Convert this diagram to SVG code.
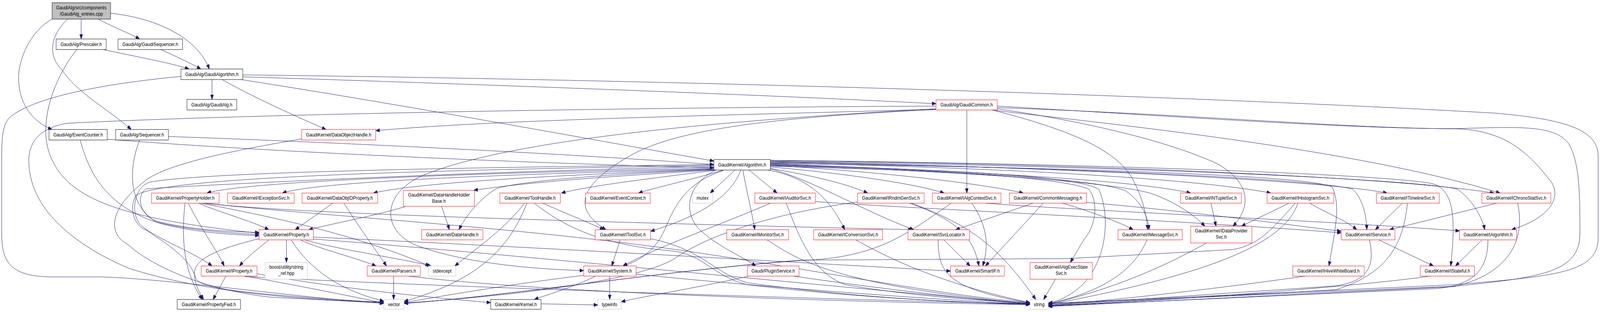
<svg xmlns="http://www.w3.org/2000/svg" width="4731" height="800" viewBox="0 0 4731 800">
<style>
.nd rect{fill:#fff;stroke:#000;stroke-width:1}
.nd.r rect{stroke:#ff0000}
.nd.g rect{stroke:#bfbfbf}
.nd.root rect{fill:#bfbfbf}
.nd text{font-family:"Liberation Sans",Arial,sans-serif;font-size:13px;text-anchor:middle;fill:#000}
#edges path{fill:none;stroke:#191970;stroke-width:1;marker-end:url(#a)}
</style>
<defs>
<marker id="a" markerWidth="12" markerHeight="9" refX="12" refY="4.5" orient="auto" markerUnits="userSpaceOnUse"><path d="M0,0 L12,4.5 L0,9 z" fill="#191970" stroke="#191970"/></marker>
</defs>
<rect x="0" y="0" width="4731" height="800" fill="#fff"/>
<g id="diagram" transform="scale(0.8657,1)">
<g id="edges">
<path d="M240,49 L240,100"/>
<path d="M291,49 C330,68 380,84 413,100"/>
<path d="M327,34 C450,45 580,90 619,177"/>
<path d="M154,49 C90,80 55,150 55,200 C55,260 90,310 154,332"/>
<path d="M200,49 C150,90 140,140 181,177 C230,240 320,280 388,332"/>
<path d="M305,127 C400,145 500,160 559,177"/>
<path d="M227,127 C160,200 100,330 160,420 C220,520 400,565 766,598"/>
<path d="M476,127 C520,145 560,160 594,177"/>
<path d="M627,204 L627,255"/>
<path d="M718,197 C1200,210 2200,240 2768,266"/>
<path d="M713,204 C1200,270 1700,350 2111,413"/>
<path d="M657,204 C750,250 880,300 964,332"/>
<path d="M718,192 C2000,205 3500,245 4420,290 C4620,305 4726,330 4726,400 L4726,610 C4726,700 4600,708 4300,730 L3100,778"/>
<path d="M535,196 C300,215 100,250 30,300 C5,320 5,360 5,420 L5,600 C5,680 40,708 150,710 L300,710 C500,715 900,765 1135,778"/>
<path d="M317,357 C800,390 1600,420 2111,430"/>
<path d="M237,359 C260,430 300,520 453,567 C550,590 680,598 766,601"/>
<path d="M498,350 C1000,365 1700,395 2111,422"/>
<path d="M413,359 C385,420 370,520 463,570 C560,595 680,602 766,604"/>
<path d="M2768,280 C2200,295 1500,305 1111,335"/>
<path d="M2859,282 L2859,495"/>
<path d="M2932,282 C3300,320 4000,380 4436,495"/>
<path d="M2768,281 C2300,300 2000,330 1862,400 C1700,480 1700,540 1792,589"/>
<path d="M2768,279 C2100,310 1500,360 1250,450 C1120,500 1130,600 1243,633 C1400,680 1600,690 1726,694"/>
<path d="M2768,272 C2000,275 800,290 200,316 C100,330 80,380 86,427 C95,530 200,620 378,687 C600,750 900,770 1135,774"/>
<path d="M2949,272 C3500,300 4000,330 4300,330 C4500,325 4600,320 4640,370 C4672,420 4672,500 4672,600 C4672,700 4550,712 4300,734 L3100,779"/>
<path d="M2949,276 C3500,292 4000,330 4300,330 C4450,333 4520,390 4590,470 C4620,520 4560,565 4470,589"/>
<path d="M2934,282 C3150,330 3300,380 3350,460 C3380,510 3390,550 3394,589"/>
<path d="M2949,279 C3200,310 3450,360 3600,420 C3700,470 3700,530 3646,580"/>
<path d="M2111,431 C1600,440 750,460 612,495"/>
<path d="M2111,433 C1600,445 950,462 835,495"/>
<path d="M2112,434 C1700,447 1250,466 1104,495"/>
<path d="M2115,436 C1800,452 1550,468 1401,488"/>
<path d="M2120,436 C1950,455 1750,475 1660,495"/>
<path d="M2139,436 C2050,460 1950,478 1888,495"/>
<path d="M2174,436 L2100,495"/>
<path d="M2215,436 L2298,495"/>
<path d="M2278,432 C2400,450 2500,470 2566,495"/>
<path d="M2278,428 C2500,445 2700,470 2792,495"/>
<path d="M2278,424 C2600,440 2900,470 3026,495"/>
<path d="M2278,420 C2900,440 3350,462 3521,495"/>
<path d="M2278,418 C3000,430 3550,460 3758,495"/>
<path d="M2278,415 C3000,425 3900,460 4102,495"/>
<path d="M2278,412 C3200,420 4100,452 4418,495"/>
<path d="M2111,427 C1400,440 700,470 433,484 C405,497 408,548 460,566 C560,590 680,594 766,596"/>
<path d="M2111,422 C1300,430 600,442 443,467 C390,482 385,560 423,582 C460,610 580,650 627,682"/>
<path d="M2111,424 C1300,436 500,452 403,500 C380,530 395,580 433,590 C500,630 560,660 579,713 C590,740 700,752 1135,776"/>
<path d="M2111,435 C1800,446 1520,465 1465,485 C1420,510 1380,550 1357,589"/>
<path d="M2190,437 C2160,510 2050,560 1924,593"/>
<path d="M2197,437 C2210,500 2225,550 2232,589"/>
<path d="M2139,437 C2020,470 1990,540 1965,590 C1940,640 1890,670 1843,682"/>
<path d="M2114,437 C2020,480 2020,560 2084,600 C2140,640 2200,660 2235,682"/>
<path d="M2270,436 C2400,455 2460,520 2498,589"/>
<path d="M2278,433 C2400,460 2550,540 2702,589"/>
<path d="M2278,426 C2900,440 3250,460 3330,490 C3380,520 3395,560 3398,589"/>
<path d="M2278,424 C2900,440 3300,470 3400,495 C3470,515 3530,550 3563,580"/>
<path d="M2278,416 C3200,430 3900,460 4000,485 C4030,510 4040,550 4042,589"/>
<path d="M2278,414 C3300,425 4200,460 4310,485 C4350,510 4380,550 4391,589"/>
<path d="M2278,411 C3300,420 4150,450 4240,472 C4300,490 4305,560 4290,682"/>
<path d="M2278,419 C3200,430 3880,450 3940,480 C3960,520 3952,560 3946,600 L3930,682"/>
<path d="M2278,421 C2900,440 3150,460 3220,485 C3250,520 3240,580 3205,615 L3165,673"/>
<path d="M2278,423 C2900,436 3200,456 3250,486 C3285,560 3270,660 3210,722 C3170,760 3120,775 3100,777"/>
<path d="M892,356 C700,385 480,420 420,470 C320,540 320,600 378,627 C460,690 620,745 800,762 L1135,777"/>
<path d="M587,521 C650,545 740,565 795,589"/>
<path d="M557,521 C590,580 640,640 663,682"/>
<path d="M547,521 C535,620 545,700 598,768"/>
<path d="M593,521 C800,555 1050,600 1270,682"/>
<path d="M600,521 C900,550 1800,570 2698,589"/>
<path d="M606,521 C900,550 1500,580 2000,640 C2400,690 2800,760 3046,776"/>
<path d="M795,615 C760,640 730,660 708,682"/>
<path d="M766,612 C660,635 575,660 575,700 C575,730 590,750 602,768"/>
<path d="M668,708 L630,768"/>
<path d="M847,615 L847,673"/>
<path d="M888,615 C950,640 1050,660 1112,682"/>
<path d="M900,615 C1000,640 1200,665 1275,682"/>
<path d="M861,615 C900,670 980,740 1135,772"/>
<path d="M927,608 C1500,630 2300,670 2811,695"/>
<path d="M927,613 C1500,650 2500,740 3046,778"/>
<path d="M984,521 L873,589"/>
<path d="M1017,521 C1060,580 1110,640 1143,682"/>
<path d="M1198,530 C1100,555 1000,570 913,589"/>
<path d="M1306,529 L1329,589"/>
<path d="M1605,521 C1680,550 1740,570 1786,589"/>
<path d="M1551,521 C1500,580 1420,630 1345,682"/>
<path d="M1558,521 C1500,650 1400,720 1195,773"/>
<path d="M1580,521 C1680,590 1800,630 1983,643 C2080,650 2110,710 2210,730 C2500,760 2800,775 3046,780"/>
<path d="M1164,708 L1164,768"/>
<path d="M1208,708 C1600,750 2500,775 3046,781"/>
<path d="M725,708 C900,735 1050,762 1135,777"/>
<path d="M760,702 C1000,740 1300,765 1451,776"/>
<path d="M724,709 C1200,732 2500,770 3046,779"/>
<path d="M1834,615 L1809,682"/>
<path d="M1924,612 C2080,640 2110,700 2210,725 C2500,760 2800,775 3046,781"/>
<path d="M1761,708 C1700,735 1620,755 1580,768"/>
<path d="M1803,708 L1803,768"/>
<path d="M1726,706 C1500,730 1300,760 1195,776"/>
<path d="M1881,703 C2300,740 2800,770 3046,780"/>
<path d="M2215,708 C2050,740 1900,760 1837,774"/>
<path d="M2346,708 C2600,740 2900,770 3046,780"/>
<path d="M2278,521 C2150,570 1950,630 1842,682"/>
<path d="M2325,521 C2360,600 2400,700 2500,730 C2700,760 2900,770 3046,778"/>
<path d="M2411,517 C2700,535 3500,565 3966,597"/>
<path d="M2268,615 C2350,660 2450,730 3046,779"/>
<path d="M2536,518 C2300,545 2100,600 2000,660 C1900,720 1500,760 1195,777"/>
<path d="M2690,521 C2850,570 2880,620 2895,682"/>
<path d="M2695,521 C2880,580 2960,640 3063,768"/>
<path d="M2874,521 C2920,580 2925,630 2906,682"/>
<path d="M2813,521 C2680,600 2600,660 2370,668 C2000,690 1500,760 1195,778"/>
<path d="M2914,521 C3200,540 3900,565 4316,592"/>
<path d="M3055,521 L2826,589"/>
<path d="M3085,521 L2914,682"/>
<path d="M3141,521 C3200,535 3300,565 3351,589"/>
<path d="M3213,519 C3500,540 3800,575 3966,593"/>
<path d="M2791,615 L2869,682"/>
<path d="M2774,615 C2775,700 2800,740 3046,777"/>
<path d="M2531,615 C2700,700 2900,750 3046,776"/>
<path d="M3581,521 L3596,580"/>
<path d="M3812,521 L3671,580"/>
<path d="M3873,521 C3920,545 3980,565 4012,589"/>
<path d="M3838,521 C3800,620 3600,700 3100,781"/>
<path d="M3830,521 C3760,590 3720,630 3644,640 L3160,663 L2370,667 C2000,690 1500,760 1195,778"/>
<path d="M4147,521 L4067,589"/>
<path d="M4162,521 C4150,620 4110,700 3950,743 L3100,784"/>
<path d="M4426,521 L4109,589"/>
<path d="M4488,521 C4510,610 4470,700 4300,735 L3100,786"/>
<path d="M4077,615 L4239,682"/>
<path d="M4050,615 C4065,680 4050,720 3950,733 L3100,783"/>
<path d="M4383,615 L4304,682"/>
<path d="M4400,615 C4400,690 4360,730 4250,740 L3100,785"/>
<path d="M4229,708 C4100,725 3600,765 3100,784"/>
<path d="M3860,708 C3600,740 3300,770 3100,782"/>
<path d="M3121,716 L3086,768"/>
<path d="M3392,615 C3350,700 3250,750 3100,779"/>
<path d="M3568,623 C3450,680 3300,740 3100,780"/>
<path d="M1600,779 L1768,782"/>
</g>
<g id="n_root" class="nd root"><rect x="154" y="7" width="173" height="42"/><text x="240.5" y="24">GaudiAlg/src/components</text><text x="240.5" y="40">/GaudiAlg_entries.cpp</text></g>
<g id="n_prescaler" class="nd"><rect x="166" y="100" width="148" height="27"/><text x="240" y="118">GaudiAlg/Prescaler.h</text></g>
<g id="n_gaudiseq" class="nd"><rect x="349" y="100" width="191" height="27"/><text x="444.5" y="118">GaudiAlg/GaudiSequencer.h</text></g>
<g id="n_gaudialgorithm" class="nd"><rect x="535" y="177" width="183" height="27"/><text x="626.5" y="195">GaudiAlg/GaudiAlgorithm.h</text></g>
<g id="n_gaudialg" class="nd"><rect x="553" y="255" width="147" height="27"/><text x="626.5" y="273">GaudiAlg/GaudiAlg.h</text></g>
<g id="n_gaudicommon" class="nd r"><rect x="2768" y="256" width="181" height="26"/><text x="2858.5" y="273">GaudiAlg/GaudiCommon.h</text></g>
<g id="n_eventcounter" class="nd"><rect x="145" y="332" width="172" height="27"/><text x="231" y="350">GaudiAlg/EventCounter.h</text></g>
<g id="n_sequencer" class="nd"><rect x="342" y="332" width="156" height="27"/><text x="420" y="350">GaudiAlg/Sequencer.h</text></g>
<g id="n_dataobjecthandle" class="nd r"><rect x="892" y="332" width="219" height="27"/><text x="1001.5" y="350">GaudiKernel/DataObjectHandle.h</text></g>
<g id="n_algorithm" class="nd"><rect x="2111" y="409" width="167" height="27"/><text x="2194.5" y="427">GaudiKernel/Algorithm.h</text></g>
<g id="n_propertyholder" class="nd r"><rect x="448" y="495" width="200" height="26"/><text x="548" y="512">GaudiKernel/PropertyHolder.h</text></g>
<g id="n_iexceptionsvc" class="nd r"><rect x="673" y="495" width="197" height="26"/><text x="771.5" y="512">GaudiKernel/IExceptionSvc.h</text></g>
<g id="n_dataobjidproperty" class="nd r"><rect x="893" y="495" width="224" height="26"/><text x="1005" y="512">GaudiKernel/DataObjIDProperty.h</text></g>
<g id="n_datahandleholderbase" class="nd r"><rect x="1193" y="488" width="210" height="41"/><text x="1298" y="504">GaudiKernel/DataHandleHolder</text><text x="1298" y="520">Base.h</text></g>
<g id="n_toolhandle" class="nd r"><rect x="1478" y="495" width="179" height="26"/><text x="1567.5" y="512">GaudiKernel/ToolHandle.h</text></g>
<g id="n_eventcontext" class="nd r"><rect x="1732" y="495" width="191" height="26"/><text x="1827.5" y="512">GaudiKernel/EventContext.h</text></g>
<g id="n_mutex" class="nd g"><rect x="2048" y="495" width="59" height="26"/><text x="2077.5" y="512">mutex</text></g>
<g id="n_iauditorsvc" class="nd r"><rect x="2232" y="495" width="179" height="26"/><text x="2321.5" y="512">GaudiKernel/IAuditorSvc.h</text></g>
<g id="n_irndmgensvc" class="nd r"><rect x="2536" y="495" width="197" height="26"/><text x="2634.5" y="512">GaudiKernel/IRndmGenSvc.h</text></g>
<g id="n_ialgcontextsvc" class="nd r"><rect x="2757" y="495" width="203" height="26"/><text x="2858.5" y="512">GaudiKernel/IAlgContextSvc.h</text></g>
<g id="n_commonmessaging" class="nd r"><rect x="2985" y="495" width="228" height="26"/><text x="3099" y="512">GaudiKernel/CommonMessaging.h</text></g>
<g id="n_intuplesvc" class="nd r"><rect x="3491" y="495" width="180" height="26"/><text x="3581" y="512">GaudiKernel/INTupleSvc.h</text></g>
<g id="n_ihistogramsvc" class="nd r"><rect x="3747" y="495" width="197" height="26"/><text x="3845.5" y="512">GaudiKernel/IHistogramSvc.h</text></g>
<g id="n_itimelinesvc" class="nd r"><rect x="4070" y="495" width="186" height="26"/><text x="4163" y="512">GaudiKernel/ITimelineSvc.h</text></g>
<g id="n_ichronostatsvc" class="nd r"><rect x="4382" y="495" width="204" height="26"/><text x="4484" y="512">GaudiKernel/IChronoStatSvc.h</text></g>
<g id="n_property" class="nd r"><rect x="766" y="589" width="161" height="26"/><text x="846.5" y="606">GaudiKernel/Property.h</text></g>
<g id="n_datahandle" class="nd r"><rect x="1247" y="589" width="181" height="26"/><text x="1337.5" y="606">GaudiKernel/DataHandle.h</text></g>
<g id="n_itoolsvc" class="nd r"><rect x="1760" y="589" width="164" height="26"/><text x="1842" y="606">GaudiKernel/IToolSvc.h</text></g>
<g id="n_imonitorsvc" class="nd r"><rect x="2149" y="589" width="183" height="26"/><text x="2240.5" y="606">GaudiKernel/IMonitorSvc.h</text></g>
<g id="n_iconversionsvc" class="nd r"><rect x="2406" y="589" width="204" height="26"/><text x="2508" y="606">GaudiKernel/IConversionSvc.h</text></g>
<g id="n_isvclocator" class="nd r"><rect x="2685" y="589" width="182" height="26"/><text x="2776" y="606">GaudiKernel/ISvcLocator.h</text></g>
<g id="n_imessagesvc" class="nd r"><rect x="3306" y="589" width="190" height="26"/><text x="3401" y="606">GaudiKernel/IMessageSvc.h</text></g>
<g id="n_idataprovidersvc" class="nd r"><rect x="3521" y="580" width="181" height="43"/><text x="3611.5" y="596">GaudiKernel/IDataProvider</text><text x="3611.5" y="612">Svc.h</text></g>
<g id="n_iservice" class="nd r"><rect x="3966" y="589" width="159" height="26"/><text x="4045.5" y="606">GaudiKernel/IService.h</text></g>
<g id="n_ialgorithm" class="nd r"><rect x="4316" y="589" width="169" height="26"/><text x="4400.5" y="606">GaudiKernel/IAlgorithm.h</text></g>
<g id="n_iproperty" class="nd r"><rect x="595" y="682" width="165" height="26"/><text x="677.5" y="699">GaudiKernel/IProperty.h</text></g>
<g id="n_boost" class="nd g"><rect x="784" y="673" width="125" height="43"/><text x="846.5" y="689">boost/utility/string</text><text x="846.5" y="705">_ref.hpp</text></g>
<g id="n_parsers" class="nd r"><rect x="1086" y="682" width="157" height="26"/><text x="1164.5" y="699">GaudiKernel/Parsers.h</text></g>
<g id="n_stdexcept" class="nd g"><rect x="1267" y="682" width="81" height="26"/><text x="1307.5" y="699">stdexcept</text></g>
<g id="n_system" class="nd r"><rect x="1726" y="682" width="155" height="26"/><text x="1803.5" y="699">GaudiKernel/System.h</text></g>
<g id="n_pluginservice" class="nd r"><rect x="2210" y="682" width="153" height="26"/><text x="2286.5" y="699">Gaudi/PluginService.h</text></g>
<g id="n_smartif" class="nd r"><rect x="2811" y="682" width="159" height="26"/><text x="2890.5" y="699">GaudiKernel/SmartIF.h</text></g>
<g id="n_ialgexecstatesvc" class="nd r"><rect x="3046" y="673" width="184" height="43"/><text x="3138" y="689">GaudiKernel/IAlgExecState</text><text x="3138" y="705">Svc.h</text></g>
<g id="n_ihivewhiteboard" class="nd r"><rect x="3823" y="682" width="211" height="26"/><text x="3928.5" y="699">GaudiKernel/IHiveWhiteBoard.h</text></g>
<g id="n_istateful" class="nd r"><rect x="4200" y="682" width="160" height="26"/><text x="4280" y="699">GaudiKernel/IStateful.h</text></g>
<g id="n_propertyfwd" class="nd"><rect x="524" y="768" width="187" height="25"/><text x="617.5" y="785">GaudiKernel/PropertyFwd.h</text></g>
<g id="n_vector" class="nd g"><rect x="1135" y="768" width="60" height="25"/><text x="1165" y="785">vector</text></g>
<g id="n_kernel" class="nd"><rect x="1451" y="768" width="149" height="25"/><text x="1525.5" y="785">GaudiKernel/Kernel.h</text></g>
<g id="n_typeinfo" class="nd g"><rect x="1768" y="768" width="69" height="25"/><text x="1802.5" y="785">typeinfo</text></g>
<g id="n_string" class="nd g"><rect x="3046" y="768" width="54" height="25"/><text x="3073" y="785">string</text></g>
</g>
</svg>
